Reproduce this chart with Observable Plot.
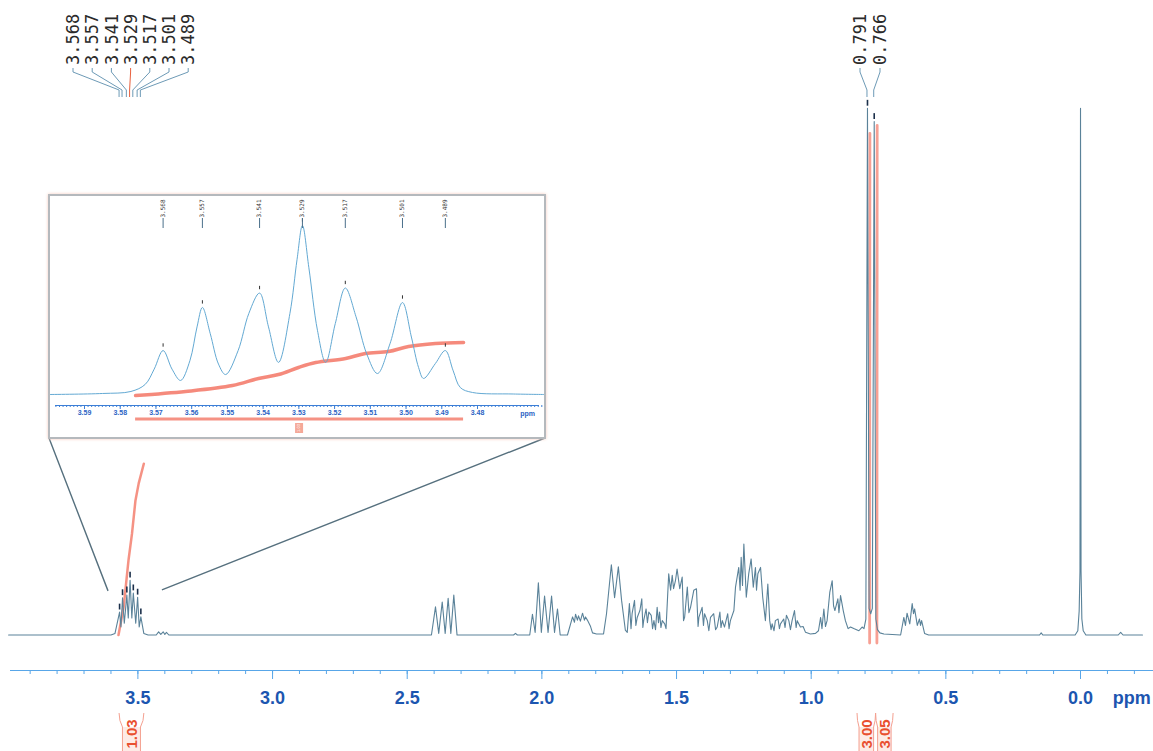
<!DOCTYPE html>
<html><head><meta charset="utf-8">
<script src="https://cdn.jsdelivr.net/npm/d3@7"></script>
<script src="https://cdn.jsdelivr.net/npm/@observablehq/plot@0.6"></script>
<style>
html,body{margin:0;padding:0;background:#fff;}
#wrap{position:relative;width:1153px;height:751px;overflow:hidden;background:#fff;}
#main{position:absolute;left:0;top:0;}
#inset{position:absolute;left:48px;top:194px;width:494px;height:241px;border:2px solid #b5b9bd;box-shadow:0 0 3px #f6cbbd;background:#fff;}
#inset svg,#main svg{display:block;}
</style></head><body>
<div id="wrap"><div id="main"></div><div id="inset"></div></div>
<script>
// ---------- data (ppm, relative intensity) ----------
const mainSpectrum = [
[3.98,0],[3.600,0],[3.585,0.3],[3.568,4.3],[3.563,1.5],[3.557,7.0],[3.5505,2.2],[3.541,7.5],[3.5357,3.2],[3.529,10.3],[3.5225,3.2],[3.517,7.9],[3.508,2.2],[3.501,7.1],[3.4951,1.5],[3.489,3.4],[3.478,0.3],[3.462,0],
[3.432,0],[3.423,0.6],[3.415,0.1],[3.406,0.6],[3.400,0.1],[3.394,0.5],[3.385,0],
[2.410,0],[2.395,5.3],[2.383,0.3],[2.370,6.2],[2.359,0.3],[2.348,6.9],[2.338,0.3],[2.327,7.5],[2.315,0],
[2.105,0],[2.098,0.3],[2.091,0],
[2.045,0],[2.035,3.9],[2.025,0.5],[2.013,9.8],[2.002,0.5],[1.990,7.3],[1.977,0.5],[1.964,7.3],[1.953,0.5],[1.942,4.9],[1.932,0],
[1.905,0],[1.886,3.4],[1.879,2.4],[1.875,3.9],[1.868,2.8],[1.864,3.6],[1.857,2.6],[1.849,4.1],[1.842,2.8],[1.838,3.4],[1.831,2.8],[1.820,1.7],[1.812,0.4],[1.797,0.2],
[1.771,0.2],[1.760,4.0],[1.742,13.2],[1.730,7.0],[1.716,12.8],[1.704,6.5],[1.690,0.9],[1.683,0.5],
[1.675,5.9],[1.669,1.2],[1.665,4.0],[1.656,6.5],[1.651,1.8],[1.646,3.3],[1.636,4.6],[1.629,6.8],[1.625,1.4],[1.622,2.7],[1.613,4.9],[1.608,2.3],[1.603,4.3],[1.594,3.7],[1.589,1.2],[1.584,2.7],[1.578,1.0],[1.572,5.2],[1.567,2.3],[1.563,4.3],[1.558,1.4],[1.553,2.7],[1.544,2.1],[1.539,1.2],
[1.529,11.5],[1.522,8.4],[1.516,11.2],[1.511,8.7],[1.504,10.2],[1.498,12.4],[1.488,8.7],[1.479,10.9],[1.474,2.7],[1.470,3.3],[1.460,9.0],[1.454,4.2],[1.448,5.2],[1.436,8.4],[1.426,8.7],[1.420,1.6],[1.417,3.3],[1.405,5.2],[1.400,1.8],[1.396,4.0],[1.386,2.7],[1.380,0.8],[1.374,3.3],[1.362,4.0],[1.355,1.0],[1.349,1.5],[1.339,4.3],[1.335,1.4],[1.330,2.7],[1.322,1.5],[1.310,4.0],[1.305,1.2],[1.300,2.7],[1.287,4.6],
[1.281,9.0],[1.269,12.7],[1.264,8.4],[1.260,14.6],[1.255,9.3],[1.250,17.1],[1.241,7.1],[1.232,11.5],[1.223,14.3],[1.215,9.0],[1.207,12.7],[1.203,8.4],[1.198,11.5],[1.188,12.7],[1.180,7.1],[1.170,2.7],[1.161,9.6],[1.154,2.7],
[1.149,1.0],[1.145,2.1],[1.138,0.8],[1.133,2.7],[1.123,3.0],[1.118,1.2],[1.114,2.1],[1.102,3.0],[1.097,1.4],[1.092,3.7],[1.083,2.7],[1.077,1.0],[1.071,2.7],[1.062,4.6],[1.056,1.4],[1.052,2.7],[1.040,1.5],[1.030,1.6],[1.021,0.5],[1.003,0.2],[0.984,0.3],
[0.973,0.8],[0.965,3.3],[0.960,1.2],[0.953,4.9],[0.947,1.6],[0.941,2.7],[0.931,8.0],[0.922,10.2],[0.917,5.5],[0.912,4.6],[0.901,6.8],[0.897,4.2],[0.891,7.4],[0.881,4.6],[0.873,2.7],[0.863,1.2],[0.854,1.5],[0.842,1.2],[0.823,0.8],[0.811,1.5],[0.804,1.2],
[0.797,3],[0.791,99],[0.785,5],[0.779,4],[0.773,5],[0.766,96.5],[0.760,3],[0.754,1],[0.745,0.4],[0.730,0.2],
[0.668,0],[0.656,3.3],[0.650,1.8],[0.644,4.1],[0.634,2.1],[0.625,5.9],[0.620,4.0],[0.616,4.9],[0.606,1.8],[0.598,3.0],[0.594,1.8],[0.590,2.7],[0.579,0.3],[0.564,0],
[0.152,0],[0.146,0.4],[0.140,0],
[0.020,0],[0.010,0.8],[0.005,4.5],[0.002,12],[0.000,99],[-0.002,12],[-0.005,3],[-0.010,0.8],[-0.020,0],
[-0.140,0],[-0.149,0.5],[-0.158,0],[-0.230,0]
];
const insetSpectrum = [
[3.600,0],[3.585,0.6],[3.577,1.8],[3.573,6],[3.5705,15],[3.568,26],[3.5655,15],[3.5631,8.3],[3.5605,20],[3.5585,40],[3.557,51.5],[3.5548,36],[3.5525,18],[3.5505,11.8],[3.547,26],[3.544,48],[3.541,60],[3.5385,40],[3.5357,19],[3.5325,48],[3.5305,80],[3.529,100],[3.5272,75],[3.5248,38],[3.5225,19],[3.5198,42],[3.517,63],[3.514,46],[3.511,24],[3.508,12.4],[3.5045,30],[3.501,54.4],[3.4985,34],[3.4965,16],[3.4951,9.5],[3.4918,18.3],[3.489,26],[3.4868,14],[3.4848,4.1],[3.4814,1.2],[3.470,0.3],[3.461,0]
];
const clusterPeaks = [3.568,3.557,3.541,3.529,3.517,3.501,3.489];
const doubletPeaks = [0.791,0.766];
const integralCluster = [[3.572,0],[3.553,5.2],[3.535,14],[3.522,19],[3.509,25.3],[3.497,28.5],[3.478,32.2]];
const integralA = [[0.783,-1.5],[0.782,94.3]];
const integralB = [[0.756,-1.5],[0.755,95.8]];
const insetIntegral = [[3.5757,-0.6],[3.5617,1.8],[3.5486,5.3],[3.5413,9.5],[3.5357,11.8],[3.5301,16],[3.5253,18.9],[3.5169,21.3],[3.5114,24.3],[3.5049,25.4],[3.4993,28.4],[3.4918,30.2],[3.4839,30.8]];
const integralLabels = ["1.03","3.00","3.05"];
const integralRanges = [[3.568,3.476],[0.828,0.759],[0.759,0.694]];
const majorTicks = [3.5,3.0,2.5,2.0,1.5,1.0,0.5,0.0];
const minorTicks = d3.range(39,-3,-1).map(d=>d/10);
const insetMajorTicks = [3.59,3.58,3.57,3.56,3.55,3.54,3.53,3.52,3.51,3.50,3.49,3.48];
const insetMinorTicks = d3.range(3598,3461,-1).map(d=>d/1000);
const zoomWindow = [[3.609,8.2],[3.409,8.4]];

// ---------- style ----------
const SPEC = "#5a8299", RED = "#f26d5b", AXIS = "#58a6e8", AXTXT = "#1c56b0";
const SANS = "Liberation Sans, Arial, sans-serif";
const height = (arr, p) => arr.find(d => d[0] === p)[1];

// ---------- main plot ----------
const main = Plot.plot({
  width: 1153, height: 751,
  marginTop: 0, marginLeft: 10, marginRight: 0, marginBottom: 81,
  x: {domain: [3.973, -0.271], range: [10, 1153]},
  y: {domain: [0, 100], range: [634.5, 102.5], axis: null},
  style: {background: "transparent"},
  marks: [
    Plot.frame({anchor: "bottom", stroke: AXIS}),
    Plot.axisX(minorTicks, {anchor: "bottom", tickSize: 4, tickFormat: () => "", stroke: AXIS}),
    Plot.axisX(majorTicks, {anchor: "bottom", tickSize: 9, tickPadding: 12, tickFormat: d => d.toFixed(1),
      stroke: AXIS, fill: AXTXT, fontSize: 18, fontWeight: "bold", fontFamily: SANS}),
    Plot.text(["ppm"], {x: () => -0.12, text: d => d, frameAnchor: "bottom", dy: 28, textAnchor: "start",
      lineAnchor: "middle", fill: AXTXT, fontSize: 18, fontWeight: "bold", fontFamily: SANS}),
    Plot.line(integralCluster, {x: d => d[0], y: d => d[1], stroke: RED, strokeWidth: 2.5, strokeOpacity: 0.75}),
    Plot.line(integralA, {x: d => d[0], y: d => d[1], stroke: RED, strokeWidth: 2.8, strokeOpacity: 0.65}),
    Plot.line(integralB, {x: d => d[0], y: d => d[1], stroke: RED, strokeWidth: 2.8, strokeOpacity: 0.65}),
    Plot.line(mainSpectrum, {x: d => d[0], y: d => d[1], stroke: SPEC, strokeWidth: 1.1}),
    Plot.ruleX(clusterPeaks.concat(doubletPeaks), {x: d => d,
      y1: d => height(mainSpectrum, d) + 0.4, y2: d => height(mainSpectrum, d) + 1.5, stroke: "#1b2f4a", strokeWidth: 1.6})
  ]
});
document.getElementById("main").appendChild(main);

const xs = main.scale("x"), ys = main.scale("y");
const X = v => xs.apply(v), Y = v => ys.apply(v);
const g = d3.select(main).append("g");

// peak label fans
function fan(peaks, centerX, spacing, redIndex) {
  const n = peaks.length;
  peaks.forEach((p, i) => {
    const cx = centerX + (i - (n - 1) / 2) * spacing;
    const px = X(p);
    g.append("path").attr("d", `M${cx},68 L${cx},72 L${px},90 L${px},97`)
      .attr("fill", "none").attr("stroke", i === redIndex ? "#e8603e" : "#6d9ab6").attr("stroke-width", 1);
    g.append("text").attr("transform", `translate(${cx},65) rotate(-90)`).attr("dy", "0.36em")
      .attr("text-anchor", "start")
      .attr("font-family", "DejaVu Sans Mono").attr("font-size", 17).attr("fill", "#2a2a2a").text(p.toFixed(3));
  });
}
fan(clusterPeaks, 130.6, 19.2, 3);
fan(doubletPeaks, 870, 20, -1);

// integral brackets under the axis
integralLabels.forEach((lab, i) => {
  const x1 = X(integralRanges[i][0]), x2 = X(integralRanges[i][1]);
  const mid = (x1 + x2) / 2, hw = Math.min((x2 - x1) / 2 - 2, 9);
  g.append("rect").attr("x", mid - hw).attr("y", 727).attr("width", 2 * hw).attr("height", 30).attr("fill", "#fdebe6");
  g.append("path").attr("d", `M${x1},713 Q${x1},721 ${mid - hw},727 L${mid - hw},751 M${x2},713 Q${x2},721 ${mid + hw},727 L${mid + hw},751`)
    .attr("fill", "none").attr("stroke", "#f4a090").attr("stroke-width", 1);
  g.append("text").attr("transform", `translate(${mid},734) rotate(-90)`).attr("dy", "0.36em").attr("text-anchor", "middle")
    .attr("font-family", SANS).attr("font-weight", "bold").attr("font-size", 15).attr("fill", "#e9502f").text(lab);
});

// zoom connector lines
g.append("path").attr("d", `M49,438 L${X(zoomWindow[0][0])},${Y(zoomWindow[0][1])} M545,438 L${X(zoomWindow[1][0])},${Y(zoomWindow[1][1])}`)
  .attr("fill", "none").attr("stroke", "#56707e").attr("stroke-width", 1.4);

// ---------- inset plot ----------
const inset = Plot.plot({
  width: 494, height: 241,
  marginTop: 0, marginLeft: 5, marginRight: 6, marginBottom: 32,
  x: {domain: [3.59, 3.48], range: [34, 427]},
  y: {domain: [0, 100], range: [198, 29], axis: null},
  style: {background: "transparent"},
  marks: [
    Plot.frame({anchor: "bottom", stroke: "#3d7fd6"}),
    Plot.axisX(insetMinorTicks, {anchor: "bottom", tickSize: 2, tickFormat: () => "", stroke: "#3d7fd6"}),
    Plot.axisX(insetMajorTicks, {anchor: "bottom", tickSize: 4, tickPadding: 1, tickFormat: d => d.toFixed(2),
      stroke: "#3d7fd6", fill: "#2b63c4", fontSize: 7, fontWeight: "bold", fontFamily: SANS}),
    Plot.text(["ppm"], {x: () => 3.466, text: d => d, frameAnchor: "bottom", dy: 8, lineAnchor: "middle",
      fill: "#2b63c4", fontSize: 7, fontWeight: "bold", fontFamily: SANS}),
    Plot.line(insetIntegral, {x: d => d[0], y: d => d[1], curve: "catmull-rom", stroke: RED, strokeWidth: 3.5, strokeOpacity: 0.8}),
    Plot.line(insetSpectrum, {x: d => d[0], y: d => d[1], curve: "catmull-rom", stroke: "#63a9d3", strokeWidth: 1}),
    Plot.ruleX(clusterPeaks, {x: d => d, y1: d => height(insetSpectrum, d) + 2, y2: d => height(insetSpectrum, d) + 4, stroke: "#333"}),
    Plot.ruleX(clusterPeaks, {x: d => d, insetTop: 22, insetBottom: 177, stroke: "#4a6f8a"}),
    Plot.text(clusterPeaks, {x: d => d, text: d => d.toFixed(3), frameAnchor: "top", dy: 21, rotate: -90,
      textAnchor: "start", lineAnchor: "middle", fontSize: 6, fontFamily: "DejaVu Sans Mono", fill: "#333"})
  ]
});
document.getElementById("inset").appendChild(inset);
const ixs = inset.scale("x");
const ig = d3.select(inset).append("g");
const ia = ixs.apply(insetIntegral[0][0]), ib = ixs.apply(insetIntegral[insetIntegral.length - 1][0]);
ig.append("line").attr("x1", ia).attr("x2", ib).attr("y1", 223).attr("y2", 223)
  .attr("stroke", RED).attr("stroke-width", 3).attr("stroke-opacity", 0.75);
ig.append("rect").attr("x", (ia + ib) / 2 - 4).attr("y", 227).attr("width", 8).attr("height", 10).attr("fill", "#f5a898");
ig.append("text").attr("transform", `translate(${(ia + ib) / 2},232) rotate(-90)`).attr("dy", "0.35em").attr("text-anchor", "middle")
  .attr("font-size", 4).attr("font-family", SANS).attr("fill", "#fff").text(integralLabels[0]);
</script>
</body></html>
